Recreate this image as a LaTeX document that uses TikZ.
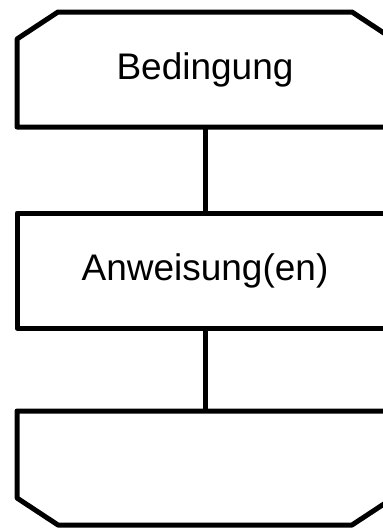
\documentclass[tikz,border=0pt]{standalone}
\usepackage{fontspec}
\setmainfont{Liberation Sans}
\begin{document}
\begin{tikzpicture}[x=1pt, y=-1pt, line width=5pt, line join=round,
    block/.style={minimum width=376pt, minimum height=115pt, inner sep=0pt, outer sep=0pt,
      font=\fontsize{37}{44}\selectfont}]
  \useasboundingbox (0,0) rectangle (383,528);
  % loop head, body, loop end
  \node[block] (cond) at (205,69.5) {Bedingung};
  \node[block, draw] (body) at (205,270.5) {Anweisung(en)};
  \node[block, minimum height=114pt] (end) at (205,468) {};
  % cut corners
  \draw (cond.south west) -- ++(0,-88) -- ++(41,-27) -- ([xshift=-41pt]cond.north east)
    -- ++(41,27) -- (cond.south east) -- cycle;
  \draw (end.north west) -- ++(0,87) -- ++(41,27) -- ([xshift=-41pt]end.south east)
    -- ++(41,-27) -- (end.north east) -- cycle;
  % connectors
  \draw (cond.south) -- (body.north);
  \draw (body.south) -- (end.north);
\end{tikzpicture}
\end{document}
